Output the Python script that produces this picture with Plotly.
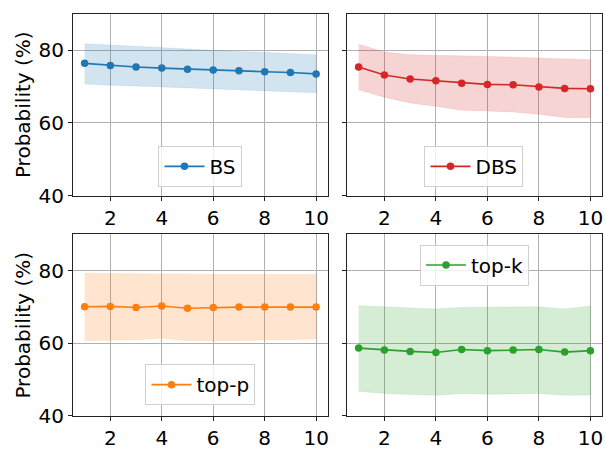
import plotly.graph_objects as go

x = [1, 2, 3, 4, 5, 6, 7, 8, 9, 10]

bs_mean = [76.4, 75.8, 75.4, 75.1, 74.8, 74.6, 74.4, 74.1, 73.9, 73.5]
bs_upper = [81.8, 81.4, 81.0, 80.7, 80.3, 80.0, 79.7, 79.4, 79.1, 78.8]
bs_lower = [70.7, 70.4, 70.2, 69.9, 69.6, 69.4, 69.1, 68.8, 68.6, 68.3]

dbs_mean = [75.4, 73.2, 72.1, 71.6, 70.9, 70.6, 70.5, 69.9, 69.5, 69.4]
dbs_upper = [81.7, 79.5, 78.8, 78.7, 78.4, 78.3, 78.1, 77.8, 77.5, 77.4]
dbs_lower = [69.1, 67.1, 65.5, 64.6, 63.5, 63.3, 63.0, 62.4, 61.5, 61.4]

topp_mean = [70.1, 70.2, 69.9, 70.3, 69.7, 69.9, 70.0, 70.0, 70.0, 70.0]
topp_upper = [79.3, 79.2, 79.1, 79.1, 79.0, 79.0, 79.0, 79.0, 79.0, 79.0]
topp_lower = [60.7, 60.9, 61.0, 61.4, 60.7, 60.7, 60.8, 60.9, 61.0, 61.2]

topk_mean = [58.7, 58.2, 57.8, 57.5, 58.3, 58.0, 58.2, 58.3, 57.6, 58.0]
topk_upper = [70.4, 70.1, 69.7, 69.5, 69.9, 70.0, 70.1, 70.1, 69.5, 70.3]
topk_lower = [46.8, 46.2, 45.9, 45.7, 46.2, 46.0, 46.1, 46.2, 45.7, 45.8]

x_ticks = [2, 4, 6, 8, 10]
y_ticks = [40, 60, 80]

series = [
    ("BS", bs_mean, bs_upper, bs_lower, "#1f77b4", "rgba(31,119,180,0.2)", "x", "y", "legend"),
    ("DBS", dbs_mean, dbs_upper, dbs_lower, "#d62728", "rgba(214,39,40,0.2)", "x2", "y2", "legend2"),
    ("top-p", topp_mean, topp_upper, topp_lower, "#ff7f0e", "rgba(255,127,14,0.2)", "x3", "y3", "legend3"),
    ("top-k", topk_mean, topk_upper, topk_lower, "#2ca02c", "rgba(44,160,44,0.2)", "x4", "y4", "legend4"),
]

fig = go.Figure()
for name, mean, up, lo, col, fillcol, xa, ya, lg in series:
    fig.add_trace(go.Scatter(
        x=x + x[::-1], y=up + lo[::-1], fill="toself", fillcolor=fillcol,
        line=dict(width=0.5, color=fillcol), mode="lines", showlegend=False,
        hoverinfo="skip", xaxis=xa, yaxis=ya))
    fig.add_trace(go.Scatter(
        x=x, y=mean, mode="lines+markers", name=name,
        line=dict(color=col, width=1.6), marker=dict(color=col, size=7.5),
        xaxis=xa, yaxis=ya, legend=lg))

font = dict(family="DejaVu Sans", size=20, color="black")
axis_common = dict(
    showline=True, linecolor="#222", linewidth=1, mirror=True,
    showgrid=True, gridcolor="#b0b0b0", gridwidth=1,
    ticks="outside", ticklen=4, tickcolor="#222", tickwidth=1,
    zeroline=False, tickfont=font, automargin=False,
)

xdom_l = [0, 0.4815]
xdom_r = [0.518, 1]
ydom_t = [0.5485, 1]
ydom_b = [0, 0.4515]

layout = dict(
    width=606, height=450,
    margin=dict(l=73, r=4, t=14, b=34),
    paper_bgcolor="white", plot_bgcolor="white",
    font=font,
)
for i, (xd, yd) in enumerate([(xdom_l, ydom_t), (xdom_r, ydom_t), (xdom_l, ydom_b), (xdom_r, ydom_b)]):
    sfx = "" if i == 0 else str(i + 1)
    xa = dict(axis_common, domain=xd, range=[0.55, 10.45], tickvals=x_ticks,
              anchor="y" + sfx)
    ya = dict(axis_common, domain=yd, range=[40, 90], tickvals=y_ticks,
              anchor="x" + sfx)
    if i in (1, 3):
        ya["showticklabels"] = False
    else:
        ya["title"] = dict(text="Probability (%)", font=font, standoff=2)
    layout["xaxis" + sfx] = xa
    layout["yaxis" + sfx] = ya

leg_common = dict(font=font, bgcolor="rgba(255,255,255,0.8)", bordercolor="#d0d0d0",
                  borderwidth=1, xanchor="center", itemwidth=40)
layout["legend"] = dict(leg_common, x=0.241, y=0.57, yanchor="bottom")
layout["legend2"] = dict(leg_common, x=0.758, y=0.57, yanchor="bottom")
layout["legend3"] = dict(leg_common, x=0.241, y=0.027, yanchor="bottom")
layout["legend4"] = dict(leg_common, x=0.759, y=0.4266, yanchor="top")

fig.update_layout(**layout)
fig.write_html("out.html")
